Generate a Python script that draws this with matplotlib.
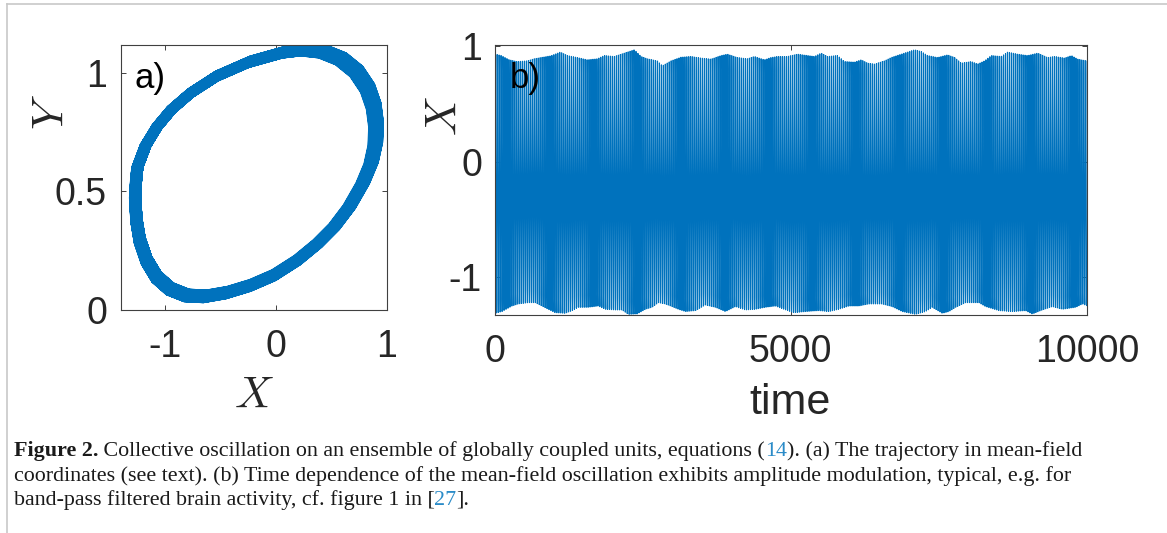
import numpy as np
import matplotlib
matplotlib.use("Agg")
import matplotlib.pyplot as plt
from matplotlib.lines import Line2D

W, H, DPI = 1167, 533, 100

# ---- data ----
# centre line of the closed trajectory in panel a (mean-field X, Y)
loop_x = [-1.078, -0.949, -0.776, -0.541, -0.248, 0.072, 0.250, 0.420, 0.580, 0.720,
          0.820, 0.875, 0.897, 0.890, 0.852, 0.776, 0.656, 0.520, 0.369, 0.187,
          -0.024, -0.236, -0.447, -0.644, -0.810, -0.961, -1.082, -1.172, -1.233,
          -1.263, -1.275, -1.265, -1.254, -1.181]
loop_y = [0.772, 0.844, 0.914, 0.985, 1.045, 1.087, 1.097, 1.088, 1.058, 1.005,
          0.935, 0.860, 0.780, 0.700, 0.619, 0.534, 0.436, 0.352, 0.281, 0.211,
          0.148, 0.105, 0.075, 0.059, 0.063, 0.091, 0.141, 0.211, 0.295,
          0.380, 0.478, 0.555, 0.602, 0.693]

# upper envelope of X(t) in panel b
upper_t = [0, 113, 253, 389, 557, 676, 789, 958, 1115, 1233, 1402, 1571, 1740, 1858, 2027,
           2196, 2365, 2478, 2584, 2753, 2838, 2985, 3154, 3322, 3491, 3660, 3829, 3935,
           4104, 4273, 4391, 4560, 4673, 4780, 4949, 5118, 5405, 5518, 5625, 5794, 5912,
           6081, 6194, 6301, 6419, 6588, 6701, 6869, 7094, 7207, 7314, 7483, 7652, 7770,
           7883, 8052, 8158, 8277, 8390, 8558, 8665, 8834, 9003, 9172, 9340, 9459, 9628,
           9741, 9847, 10000]
upper_x = [0.934, 0.920, 0.882, 0.867, 0.873, 0.891, 0.902, 0.917, 0.949, 0.919, 0.902,
           0.882, 0.891, 0.919, 0.911, 0.940, 0.969, 0.911, 0.891, 0.873, 0.830, 0.873,
           0.905, 0.911, 0.897, 0.888, 0.919, 0.931, 0.902, 0.891, 0.911, 0.882, 0.902,
           0.911, 0.911, 0.931, 0.911, 0.940, 0.911, 0.919, 0.867, 0.862, 0.882, 0.853,
           0.845, 0.873, 0.902, 0.931, 0.969, 0.954, 0.919, 0.902, 0.925, 0.902, 0.853,
           0.867, 0.845, 0.873, 0.919, 0.911, 0.949, 0.931, 0.919, 0.940, 0.902, 0.911,
           0.897, 0.919, 0.888, 0.873]

# lower envelope of X(t) in panel b
lower_t = [0, 113, 282, 389, 557, 676, 789, 895, 1013, 1182, 1296, 1402, 1571, 1740, 1858,
           2027, 2140, 2247, 2393, 2534, 2647, 2753, 2871, 2985, 3091, 3209, 3378, 3547,
           3716, 3885, 4054, 4222, 4391, 4560, 4729, 4898, 5038, 5236, 5461, 5630, 5799,
           5968, 6137, 6305, 6531, 6700, 6869, 7094, 7263, 7376, 7545, 7657, 7770, 7939,
           8164, 8277, 8502, 8727, 8952, 9065, 9234, 9403, 9572, 9797, 9910, 10000]
lower_x = [-1.315, -1.300, -1.252, -1.234, -1.223, -1.223, -1.252, -1.280, -1.310, -1.315,
           -1.292, -1.263, -1.263, -1.252, -1.280, -1.286, -1.286, -1.324, -1.321, -1.280,
           -1.263, -1.223, -1.234, -1.257, -1.280, -1.300, -1.292, -1.243, -1.263, -1.300,
           -1.257, -1.286, -1.280, -1.263, -1.252, -1.285, -1.310, -1.300, -1.292, -1.300,
           -1.280, -1.252, -1.252, -1.234, -1.234, -1.257, -1.300, -1.324, -1.300, -1.263,
           -1.315, -1.300, -1.263, -1.223, -1.223, -1.257, -1.292, -1.300, -1.292, -1.321,
           -1.286, -1.257, -1.280, -1.263, -1.234, -1.252]

period = 33.0          # oscillation period (time units)
t_end = 10000

a_xticks = [-1, 0, 1]
a_yticks = [0, 0.5, 1]
b_xticks = [0, 5000, 10000]
b_yticks = [-1, 0, 1]

# ---- build trajectory: loop shape repeated, scaled by the envelope ----
lx = np.array(loop_x)
ly = np.array(loop_y)
rng = lx.max() - lx.min()
u = (lx - lx.min()) / rng
yc = 0.5 * (ly.min() + ly.max())
n = len(lx)
ncyc = int(np.ceil(t_end / period))
T, XS, YS = [], [], []
for k in range(ncyc):
    tc = (k + 0.5) * period
    U = np.interp(tc, upper_t, upper_x)
    L = np.interp(tc, lower_t, lower_x)
    s = (U - L) / rng
    XS.append(L + u * (U - L))
    YS.append(yc + (ly - yc) * s)
    T.append(k * period + np.arange(n) * period / n)
T = np.concatenate(T)
XS = np.concatenate(XS)
YS = np.concatenate(YS)
m = T <= t_end
T, XS, YS = T[m], XS[m], YS[m]

# ---- figure ----
plt.rcParams['mathtext.fontset'] = 'cm'
fig = plt.figure(figsize=(W / DPI, H / DPI), dpi=DPI)
fig.patch.set_facecolor('white')

def rect(l, r, t, b):
    return [l / W, 1 - b / H, (r - l) / W, (b - t) / H]

blue = '#0072BD'
tick_col = '#262626'
sans = 'Liberation Sans'

axa = fig.add_axes(rect(121, 387, 44.5, 310))
axa.plot(XS, YS, color=blue, lw=0.8, solid_joinstyle='round')
axa.set_xlim(-1.4, 1.0)
axa.set_ylim(0, 1.12)
axa.set_xticks(a_xticks)
axa.set_yticks(a_yticks)
axa.set_xticklabels(['-1', '0', '1'])
axa.set_yticklabels(['0', '0.5', '1'])

axb = fig.add_axes(rect(494.5, 1087, 44.5, 315))
axb.plot(T, XS, color=blue, lw=0.8)
axb.set_xlim(0, t_end)
axb.set_ylim(-1.33, 1.015)
axb.set_xticks(b_xticks)
axb.set_yticks(b_yticks)
axb.set_xticklabels(['0', '5000', '10000'])
axb.set_yticklabels(['-1', '0', '1'])

for ax, ypad in ((axa, 10), (axb, 9)):
    for sp in ax.spines.values():
        sp.set_color('#404040')
        sp.set_linewidth(0.8)
    ax.tick_params(direction='in', length=3.5, width=0.7, color='#404040',
                   top=True, right=True, labelsize=27, labelcolor=tick_col)
    ax.tick_params(axis='x', pad=14)
    ax.tick_params(axis='y', pad=ypad)
    for lab in ax.get_xticklabels() + ax.get_yticklabels():
        lab.set_family(sans)

def ftext(x, y, s, **kw):
    return fig.text(x / W, 1 - y / H, s, **kw)

ftext(135, 88, 'a)', fontsize=25, family=sans, color='black', ha='left', va='baseline')
ftext(510, 88, 'b)', fontsize=25, family=sans, color='black', ha='left', va='baseline')

ftext(254, 395, r'$X$', fontsize=32, color=tick_col, ha='center', va='center')
ftext(51, 112, r'$Y$', fontsize=32, color=tick_col, ha='center', va='center', rotation=90)
ftext(444, 116, r'$X$', fontsize=32, color=tick_col, ha='center', va='center', rotation=90)
ftext(790, 403, 'time', fontsize=31, family=sans, color=tick_col, ha='center', va='center')

# page frame
fig.add_artist(Line2D([7 / W, 7 / W], [0, 1 - 4 / H], transform=fig.transFigure,
                      color='#c8c8c8', lw=1.2))
fig.add_artist(Line2D([7 / W, 1], [1 - 4 / H, 1 - 4 / H], transform=fig.transFigure,
                      color='#c8c8c8', lw=1.2))

# caption
cap_size = 15.8
ref_blue = '#2a8bc8'
renderer = fig.canvas.get_renderer()

def segments(x, y, segs):
    for s, col, wt in segs:
        t = ftext(x, y, s, fontsize=cap_size, family='Liberation Serif', color=col,
                  fontweight=wt, ha='left', va='baseline')
        x += t.get_window_extent(renderer).width

segments(13.5, 456, [('Figure 2.', '#1a1a1a', 'bold'),
                     (' Collective oscillation on an ensemble of globally coupled units, equations (', '#1a1a1a', 'normal'),
                     ('14', ref_blue, 'normal'),
                     ('). (a) The trajectory in mean-field', '#1a1a1a', 'normal')])
segments(13.5, 480.5, [('coordinates (see text). (b) Time dependence of the mean-field oscillation exhibits amplitude modulation, typical, e.g. for', '#1a1a1a', 'normal')])
segments(13.5, 505, [('band-pass filtered brain activity, cf. figure 1 in [', '#1a1a1a', 'normal'),
                     ('27', ref_blue, 'normal'),
                     ('].', '#1a1a1a', 'normal')])

fig.savefig('out.png', dpi=DPI, facecolor='white')
